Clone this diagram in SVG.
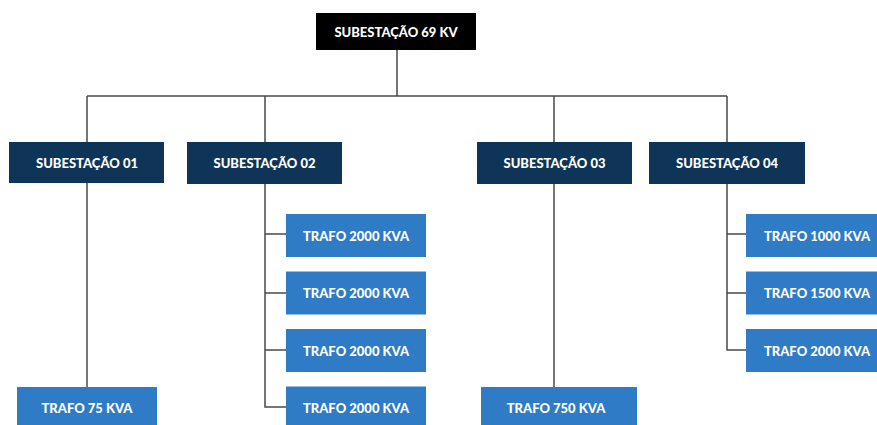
<svg xmlns="http://www.w3.org/2000/svg" width="877" height="425" viewBox="0 0 877 425">
<style>
.top{fill:#000}
.sub{fill:#0e3558}
.tr{fill:#2f7bc6}
.t{font-family:Lato,"Open Sans","Liberation Sans",sans-serif;font-weight:900;font-size:13px;fill:#fff;text-anchor:middle;dominant-baseline:central}
.c{stroke:#4a4a4a;stroke-width:1.5;fill:none}
</style>
<rect width="877" height="425" fill="#fff"/>
<g id="connectors">
<path class="c" d="M397 50V96M87 96H727M87 96V142M265 96V142M554 96V142M727 96V142"/>
<path class="c" d="M87 183V387"/>
<path class="c" d="M265 184V407H286M265 234H286M265 293H286M265 350H286"/>
<path class="c" d="M554 184V387"/>
<path class="c" d="M727 184V350H746M727 234H746M727 293H746"/>
</g>
<g id="n69"><rect class="top" x="316" y="13" width="160" height="37"/><text class="t" x="396" y="31.5">SUBESTAÇÃO 69 KV</text></g>
<g id="s01"><rect class="sub" x="9" y="142" width="155" height="41"/><text class="t" x="87" y="162.5">SUBESTAÇÃO 01</text></g>
<g id="s02"><rect class="sub" x="187" y="142" width="155" height="42"/><text class="t" x="264.5" y="163">SUBESTAÇÃO 02</text></g>
<g id="s03"><rect class="sub" x="477" y="142" width="155" height="42"/><text class="t" x="554.5" y="163">SUBESTAÇÃO 03</text></g>
<g id="s04"><rect class="sub" x="649" y="142" width="156" height="42"/><text class="t" x="727" y="163">SUBESTAÇÃO 04</text></g>
<g id="t2a"><rect class="tr" x="286" y="214" width="140" height="43"/><text class="t" x="356" y="235.5">TRAFO 2000 KVA</text></g>
<g id="t2b"><rect class="tr" x="286" y="271.5" width="140" height="43"/><text class="t" x="356" y="293">TRAFO 2000 KVA</text></g>
<g id="t2c"><rect class="tr" x="286" y="329" width="140" height="43"/><text class="t" x="356" y="350.5">TRAFO 2000 KVA</text></g>
<g id="t2d"><rect class="tr" x="286" y="386.5" width="140" height="43"/><text class="t" x="356" y="408">TRAFO 2000 KVA</text></g>
<g id="t4a"><rect class="tr" x="746" y="214" width="142" height="43"/><text class="t" x="817" y="235.5">TRAFO 1000 KVA</text></g>
<g id="t4b"><rect class="tr" x="746" y="271.5" width="142" height="43"/><text class="t" x="817" y="293">TRAFO 1500 KVA</text></g>
<g id="t4c"><rect class="tr" x="746" y="329" width="142" height="43"/><text class="t" x="817" y="350.5">TRAFO 2000 KVA</text></g>
<g id="t1"><rect class="tr" x="17" y="387" width="140" height="43"/><text class="t" x="87" y="408">TRAFO 75 KVA</text></g>
<g id="t3"><rect class="tr" x="481" y="387" width="156" height="43"/><text class="t" x="556" y="408">TRAFO 750 KVA</text></g>
</svg>
